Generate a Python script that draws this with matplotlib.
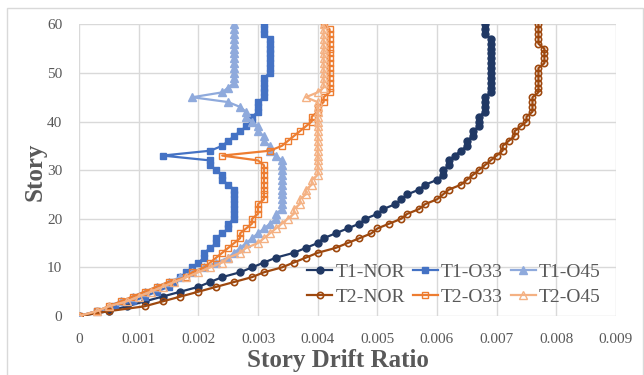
import matplotlib.pyplot as plt
from matplotlib.patches import Rectangle

# story levels 0..60
stories = list(range(61))

t1_nor = [0, 0.0005, 0.0008, 0.0011, 0.0014, 0.0017, 0.0020, 0.0022, 0.0024, 0.0027,
          0.0029, 0.0031, 0.0033, 0.0036, 0.0038, 0.0040, 0.0041, 0.0043, 0.0045, 0.0047,
          0.0048, 0.0050, 0.0051, 0.0053, 0.0054, 0.0055, 0.0057, 0.0058, 0.0060, 0.0061,
          0.0061, 0.0062, 0.0062, 0.0063, 0.0064, 0.0065, 0.0065, 0.0066, 0.0066, 0.0067,
          0.0067, 0.0067, 0.0068, 0.0068, 0.0068, 0.0068, 0.0069, 0.0069, 0.0069, 0.0069,
          0.0069, 0.0069, 0.0069, 0.0069, 0.0069, 0.0069, 0.0069, 0.0069, 0.0068, 0.0068,
          0.0068]
t1_o33 = [0, 0.0003, 0.0006, 0.0009, 0.0011, 0.0013, 0.0015, 0.0016, 0.0017, 0.0018,
          0.0019, 0.0020, 0.0021, 0.0021, 0.0022, 0.0023, 0.0023, 0.0024, 0.0025, 0.0025,
          0.0026, 0.0026, 0.0026, 0.0026, 0.0026, 0.0026, 0.0026, 0.0025, 0.0024, 0.0024,
          0.0023, 0.0022, 0.0022, 0.0014, 0.0022, 0.0024, 0.0025, 0.0026, 0.0027, 0.0028,
          0.0029, 0.0029, 0.0030, 0.0030, 0.0030, 0.0031, 0.0031, 0.0031, 0.0031, 0.0031,
          0.0032, 0.0032, 0.0032, 0.0032, 0.0032, 0.0032, 0.0032, 0.0032, 0.0031, 0.0031,
          0.0031]
t1_o45 = [0, 0.0003, 0.0005, 0.0007, 0.0009, 0.0011, 0.0013, 0.0015, 0.0017, 0.0019,
          0.0021, 0.0023, 0.0025, 0.0026, 0.0027, 0.0028, 0.0029, 0.0030, 0.0031, 0.0032,
          0.0033, 0.0033, 0.0034, 0.0034, 0.0034, 0.0034, 0.0034, 0.0034, 0.0034, 0.0034,
          0.0034, 0.0034, 0.0034, 0.0033, 0.0032, 0.0032, 0.0031, 0.0031, 0.0030, 0.0030,
          0.0029, 0.0028, 0.0028, 0.0027, 0.0025, 0.0019, 0.0024, 0.0025, 0.0026, 0.0026,
          0.0026, 0.0026, 0.0026, 0.0026, 0.0026, 0.0026, 0.0026, 0.0026, 0.0026, 0.0026,
          0.0026]
t2_nor = [0, 0.0005, 0.0011, 0.0014, 0.0017, 0.0020, 0.0023, 0.0026, 0.0029, 0.0031,
          0.0034, 0.0036, 0.0038, 0.0040, 0.0043, 0.0045, 0.0047, 0.0049, 0.0050, 0.0052,
          0.0054, 0.0055, 0.0057, 0.0058, 0.0060, 0.0061, 0.0062, 0.0064, 0.0065, 0.0066,
          0.0067, 0.0068, 0.0069, 0.0070, 0.0071, 0.0071, 0.0072, 0.0073, 0.0073, 0.0074,
          0.0075, 0.0075, 0.0076, 0.0076, 0.0076, 0.0076, 0.0077, 0.0077, 0.0077, 0.0077,
          0.0077, 0.0077, 0.0078, 0.0078, 0.0078, 0.0078, 0.0077, 0.0077, 0.0077, 0.0077,
          0.0077]
t2_o33 = [0, 0.0003, 0.0005, 0.0007, 0.0009, 0.0011, 0.0013, 0.0015, 0.0018, 0.0019,
          0.0021, 0.0022, 0.0023, 0.0024, 0.0025, 0.0026, 0.0027, 0.0027, 0.0028, 0.0029,
          0.0029, 0.0030, 0.0030, 0.0030, 0.0031, 0.0031, 0.0031, 0.0031, 0.0031, 0.0031,
          0.0031, 0.0031, 0.0030, 0.0024, 0.0032, 0.0034, 0.0035, 0.0036, 0.0037, 0.0038,
          0.0039, 0.0039, 0.0040, 0.0040, 0.0041, 0.0041, 0.0042, 0.0042, 0.0042, 0.0042,
          0.0042, 0.0042, 0.0042, 0.0042, 0.0042, 0.0042, 0.0042, 0.0042, 0.0042, 0.0042,
          0.0041]
t2_o45 = [0, 0.0003, 0.0005, 0.0008, 0.0010, 0.0012, 0.0014, 0.0016, 0.0018, 0.0020,
          0.0022, 0.0024, 0.0025, 0.0027, 0.0028, 0.0030, 0.0031, 0.0032, 0.0033, 0.0034,
          0.0035, 0.0036, 0.0036, 0.0037, 0.0037, 0.0038, 0.0038, 0.0039, 0.0039, 0.0040,
          0.0040, 0.0040, 0.0040, 0.0040, 0.0040, 0.0040, 0.0040, 0.0040, 0.0040, 0.0040,
          0.0040, 0.0040, 0.0040, 0.0040, 0.0040, 0.0038, 0.0040, 0.0041, 0.0041, 0.0041,
          0.0041, 0.0041, 0.0041, 0.0041, 0.0041, 0.0041, 0.0041, 0.0041, 0.0041, 0.0041,
          0.0041]

x_ticks = [0, 0.001, 0.002, 0.003, 0.004, 0.005, 0.006, 0.007, 0.008, 0.009]
x_labels = ['0', '0.001', '0.002', '0.003', '0.004', '0.005', '0.006', '0.007', '0.008', '0.009']
y_ticks = [0, 10, 20, 30, 40, 50, 60]

plt.rcParams['font.family'] = ['Liberation Serif', 'DejaVu Serif']
gray = '#595959'

fig = plt.figure(figsize=(6.44, 3.75), dpi=100)
ax = fig.add_axes([0.1227, 0.1573, 0.8338, 0.7779])

# chart area border
fig.patches.append(Rectangle((7 / 644, -0.1), 636 / 644, 1.1 - 8 / 375, transform=fig.transFigure,
                             fill=False, edgecolor='#D9D9D9', linewidth=1))

ax.plot(t1_nor, stories, color='#203864', marker='o', markersize=5, linewidth=1.6, label='T1-NOR')
ax.plot(t1_o33, stories, color='#4472C4', marker='s', markersize=5, linewidth=1.6, label='T1-O33')
ax.plot(t1_o45, stories, color='#8FAADC', marker='^', markersize=5.5, linewidth=1.6, label='T1-O45')
ax.plot(t2_nor, stories, color='#9E480E', marker='o', markersize=4.5, markerfacecolor='none',
        markeredgewidth=1.2, linewidth=1.6, label='T2-NOR')
ax.plot(t2_o33, stories, color='#ED7D31', marker='s', markersize=5, markerfacecolor='none',
        markeredgewidth=1.0, linewidth=1.6, label='T2-O33')
ax.plot(t2_o45, stories, color='#F4B183', marker='^', markersize=5.5, markerfacecolor='none',
        markeredgewidth=1.0, linewidth=1.6, label='T2-O45')

ax.set_xlim(0, 0.009)
ax.set_ylim(0, 60)
ax.set_xticks(x_ticks)
ax.set_xticklabels(x_labels)
ax.set_yticks(y_ticks)
ax.grid(True, color='#D9D9D9', linewidth=1)
ax.set_axisbelow(True)
for s in ax.spines.values():
    s.set_visible(False)
ax.tick_params(length=0, labelsize=11, labelcolor=gray)
ax.tick_params(axis='x', pad=12)
ax.tick_params(axis='y', pad=12)

ax.set_xlabel('Story Drift Ratio', fontsize=18, fontweight='bold', color=gray)
ax.xaxis.set_label_coords(0.482, -0.112)
ax.set_ylabel('Story', fontsize=18, fontweight='bold', color=gray)
ax.yaxis.set_label_coords(-0.06, 0.494)

# legend order so rows read T1..., T2...
h, l = ax.get_legend_handles_labels()
order = [0, 3, 1, 4, 2, 5]
ax.legend([h[i] for i in order], [l[i] for i in order], ncol=3, frameon=False, fontsize=14,
          loc='center', bbox_to_anchor=(0.698, 0.108), handlelength=1.3, handletextpad=0.15,
          columnspacing=0.4, labelspacing=0.4, labelcolor=gray, borderpad=0.2)

plt.savefig('out.png', dpi=100)
